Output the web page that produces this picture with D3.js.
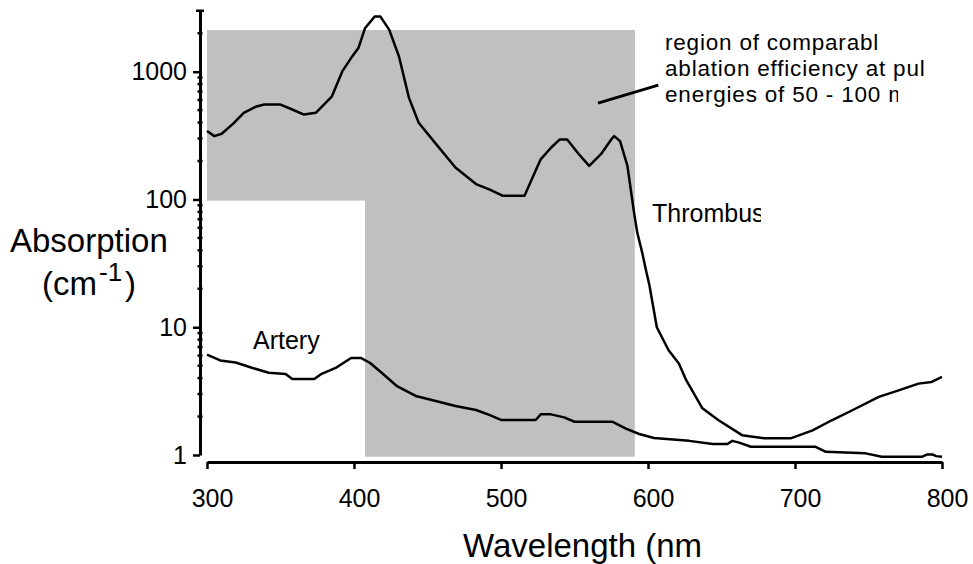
<!DOCTYPE html>
<html>
<head>
<meta charset="utf-8">
<script src="https://cdn.jsdelivr.net/npm/d3@7"></script>
<style>
body{margin:0;background:#fff;}
svg text{font-family:"Liberation Sans",Arial,Helvetica,sans-serif;fill:#000;}
</style>
</head>
<body>
<div id="chart"></div>
<script>
// absorption spectra
const thrombusNm  = [300,305,310,318,325,333,339,350,358,366,374,385,392,398,403,407.5,414,418,424,430.6,437.4,444,456,469,483,492,501,516,519,527,534,540,545,553,560,568,575,577,581,586,590.5,592.7,596,598.4,601,606,614,621,626,637,648,664,679,697,712,725,739,757,771,784,793,800];
const thrombusAbs = [343,313,327,394,477,531,553,553,506,462,477,642,1005,1278,1530,2190,2700,2700,2125,1316,624,398,270,178,132,120,107,107,128,206,254,295,295,226,183,226,295,313,286,183,79,55,38.6,28.7,21.2,10.0,6.6,5.2,3.85,2.32,1.87,1.43,1.35,1.35,1.56,1.87,2.24,2.85,3.22,3.62,3.73,4.08];
const arteryNm  = [300,309,319.5,331,342,353.5,358,373,378,387.5,398,404.6,411,419,429.5,442,455.6,469,483,492,500,523.6,527,534,543,550,576,585,594,604,628,644,654,657.4,662,670,714,721,748,759,786.6,790,793.4,796,800];
const arteryAbs = [6.1,5.5,5.3,4.8,4.4,4.3,3.93,3.93,4.32,4.8,5.75,5.75,5.25,4.38,3.44,2.9,2.65,2.42,2.25,2.06,1.88,1.88,2.08,2.08,1.97,1.82,1.82,1.61,1.46,1.36,1.29,1.22,1.22,1.29,1.25,1.16,1.16,1.06,1.03,0.97,0.97,1.01,1.01,0.98,0.97];

const xTicks = [300,400,500,600,700,800];
const yTicks = [1,10,100,1000];
const yTop = 3000;

// grey region (two boxes)
const shadeFrom = [300,407.5];
const shadeTo   = [591,591];
const shadeLow  = [98,0.97];
const shadeHigh = [2117,2117];

// leader line for the note
const leaderNm  = [566,607];
const leaderAbs = [568,785];
const noteLines = ["region of comparabl","ablation efficiency at pul","energies of 50 - 100 mJ"];

const W = 973, H = 564;

const x = d3.scaleLinear().domain([300,800]).range([207,942]);
const y = d3.scaleLog().domain([1,1000]).range([455,71.7]);
const yA = y.copy().domain([1,yTop]).range([y(1),y(yTop)]);

const svg = d3.select("#chart").append("svg")
    .attr("width",W).attr("height",H);

const defs = svg.append("defs");
defs.append("clipPath").attr("id","clipY")
  .append("rect").attr("x",0).attr("y",200).attr("width",168).attr("height",70);
defs.append("clipPath").attr("id","clipThr")
  .append("rect").attr("x",640).attr("y",190).attr("width",121).attr("height",40);
const noteClip = defs.append("clipPath").attr("id","clipNote")
  .append("rect").attr("x",650).attr("y",80).attr("width",256).attr("height",30);

// shading
svg.selectAll("rect.shade")
  .data(d3.range(shadeFrom.length))
  .join("rect")
    .attr("class","shade")
    .attr("x",i => x(shadeFrom[i]))
    .attr("width",i => x(shadeTo[i]) - x(shadeFrom[i]))
    .attr("y",i => y(shadeHigh[i]))
    .attr("height",i => y(shadeLow[i]) - y(shadeHigh[i]))
    .attr("fill","#c0c0c0");

// curves
const line = d3.line().x(d => x(d[0])).y(d => y(d[1]));
[[thrombusNm,thrombusAbs],[arteryNm,arteryAbs]].forEach(s => {
  svg.append("path")
    .datum(d3.zip(s[0],s[1]))
    .attr("d",line)
    .attr("fill","none")
    .attr("stroke","#000")
    .attr("stroke-width",2.5)
    .attr("stroke-linejoin","round");
});

// y axis
const yAxis = svg.append("g")
  .attr("transform","translate(200,0)")
  .call(d3.axisLeft(yA).tickValues(yTicks).tickSize(7).tickSizeOuter(0)
        .tickPadding(6).tickFormat(d3.format("d")));

const minors = [];
yTicks.forEach(d => d3.range(2,10).forEach(m => { if (d*m <= yTop) minors.push(d*m); }));
yAxis.selectAll("line.minor")
  .data(minors)
  .join("line")
    .attr("class","minor")
    .attr("x1",d => d === yTop ? -4 : -2.5)
    .attr("x2",d => d === yTop ? 4 : 2.5)
    .attr("y1",d => yA(d)).attr("y2",d => yA(d))
    .attr("stroke","#000").attr("stroke-width",2.5);

// x axis
const xAxis = svg.append("g")
  .attr("transform","translate(0,462)")
  .call(d3.axisBottom(x).tickValues(xTicks).tickSize(7).tickSizeOuter(0).tickPadding(20));
xAxis.selectAll("text").attr("dx",5);

[yAxis,xAxis].forEach(a => {
  a.select(".domain").attr("stroke-width",3);
  a.selectAll(".tick line").attr("stroke-width",2.5);
  a.selectAll(".tick text").style("font-size","25px")
    .style("font-family","'Liberation Sans',Arial,sans-serif");
});

// labels
svg.append("text")
  .attr("x",463).attr("y",557)
  .style("font-size","33px")
  .text("Wavelength (nm");

svg.append("text")
  .attr("clip-path","url(#clipY)")
  .attr("x",10).attr("y",252)
  .style("font-size","33px")
  .text("Absorption");

const cm = svg.append("text")
  .attr("x",42).attr("y",295)
  .style("font-size","33px");
cm.append("tspan").text("(cm");
cm.append("tspan").attr("dx",2).attr("dy",-14).style("font-size","26px").text("-1");
cm.append("tspan").attr("dx",3).attr("dy",14).text(")");

svg.append("text")
  .attr("clip-path","url(#clipThr)")
  .attr("x",652).attr("y",222)
  .style("font-size","25px")
  .text("Thrombus");

svg.append("text")
  .attr("x",253).attr("y",349)
  .style("font-size","25px")
  .text("Artery");

// note
svg.append("line")
  .attr("x1",x(leaderNm[0])).attr("y1",y(leaderAbs[0]))
  .attr("x2",x(leaderNm[1])).attr("y2",y(leaderAbs[1]))
  .attr("stroke","#000").attr("stroke-width",3);

const notes = svg.selectAll("text.note")
  .data(noteLines)
  .join("text")
    .attr("class","note")
    .attr("x",665)
    .attr("y",(d,i) => 50 + i*26)
    .style("font-size","22.5px")
    .style("letter-spacing","0.8px")
    .text(d => d);

// last line is cut in the middle of the "m"
const last = notes.filter((d,i) => i === 2).attr("clip-path","url(#clipNote)").node();
const mPos = noteLines[2].indexOf("m");
const mStart = last.getStartPositionOfChar(mPos).x;
const mEnd = last.getEndPositionOfChar(mPos).x;
noteClip.attr("width", mStart + (mEnd - mStart) * 0.5 - 650);
</script>
</body>
</html>
